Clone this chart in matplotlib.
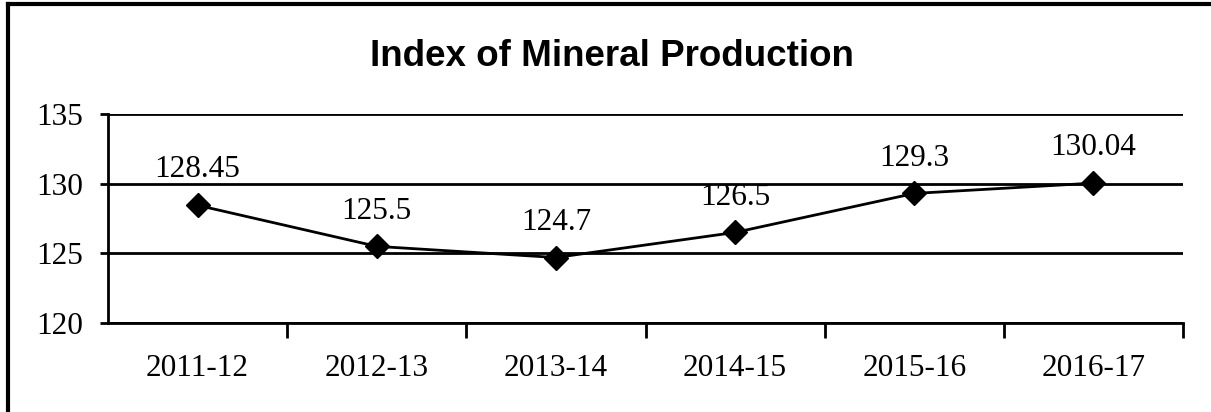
import numpy as np
import matplotlib
matplotlib.use("Agg")
import matplotlib.pyplot as plt
from matplotlib.lines import Line2D

# donnees
years = ["2011-12", "2012-13", "2013-14", "2014-15", "2015-16", "2016-17"]
index_values = [128.45, 125.5, 124.7, 126.5, 129.3, 130.04]
value_labels = ["128.45", "125.5", "124.7", "126.5", "129.3", "130.04"]
y_ticks = [120, 125, 130, 135]

serif = ["Liberation Serif", "DejaVu Serif"]

fig = plt.figure(figsize=(12.11, 4.12), dpi=100)
ax = fig.add_axes([108 / 1211, 1 - 323 / 412, (1183 - 108) / 1211, (323 - 114) / 412])

x = np.arange(len(years))
ax.plot(x, index_values, color="black", lw=2, marker="D", ms=12.5,
        markerfacecolor="black", markeredgecolor="black")

for xi, v, lab in zip(x, index_values, value_labels):
    ax.annotate(lab, (xi, v), xytext=(0, 15), textcoords="offset points",
                ha="center", va="bottom", fontsize=22.5, family=serif)

ax.set_xlim(-0.5, len(years) - 0.5)
ax.set_ylim(120, 135)
ax.set_yticks(y_ticks)
ax.set_yticklabels([str(t) for t in y_ticks], fontsize=22.5, family=serif)
ax.yaxis.grid(True, color="black", lw=2)
ax.set_axisbelow(True)

# ticks entre les categories (pas au bord gauche)
ax.set_xticks(np.arange(1, len(years) + 1) - 0.5)
ax.set_xticklabels([])
ax.set_xticks(x, minor=True)
ax.set_xticklabels(years, minor=True, fontsize=22.5, family=serif)
ax.tick_params(axis="x", which="major", direction="out", length=11, width=2, color="black")
ax.tick_params(axis="x", which="minor", length=0, pad=22)
ax.tick_params(axis="y", direction="out", length=6, width=2, pad=12)

for s in ["top", "right"]:
    ax.spines[s].set_visible(False)
for s in ["left", "bottom"]:
    ax.spines[s].set_linewidth(2)

fig.text(0.505, 1 - 57 / 412, "Index of Mineral Production", ha="center", va="center",
         fontsize=26.5, fontweight="bold", family=["Liberation Sans", "DejaVu Sans"])

# cadre exterieur (seuls haut et gauche visibles)
fig.add_artist(Line2D([8 / 1211, 8 / 1211], [0, 1 - 4 / 412], transform=fig.transFigure,
                      color="black", lw=3))
fig.add_artist(Line2D([8 / 1211, 1], [1 - 4 / 412, 1 - 4 / 412], transform=fig.transFigure,
                      color="black", lw=3))

fig.savefig("out.png", dpi=100)
